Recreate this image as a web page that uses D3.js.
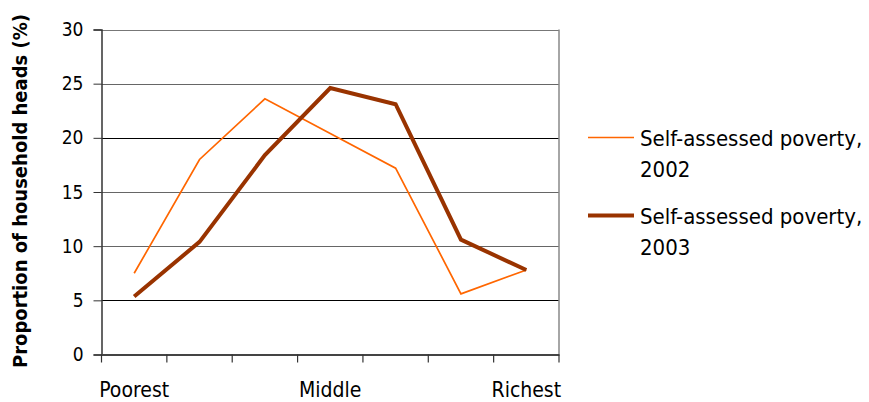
<!DOCTYPE html>
<html><head><meta charset="utf-8">
<script src="https://cdn.jsdelivr.net/npm/d3@7"></script>
<style>
body{margin:0;background:#fff;}
text{font-family:"DejaVu Sans Condensed","DejaVu Sans",sans-serif;font-stretch:condensed;fill:#000;}
</style></head>
<body><svg id="c" width="869" height="402"></svg>
<script>
const categories = ["Poorest","2","3","Middle","5","6","Richest"];
const shownLabels = ["Poorest","Middle","Richest"];
const values2002 = [7.5, 18.0, 23.6, 20.4, 17.2, 5.6, 7.8];
const values2003 = [5.35, 10.4, 18.4, 24.6, 23.1, 10.6, 7.8];
const yTicks = [0,5,10,15,20,25,30];
const seriesNames = ["Self-assessed poverty, 2002","Self-assessed poverty, 2003"];

const FONT = '"DejaVu Sans Condensed","DejaVu Sans",sans-serif';
const svg = d3.select("#c");
const L=101.5, R=559, T=29.5, B=354.5;
const x = d3.scaleBand().domain(categories).range([L,R]);
const y = d3.scaleLinear().domain([0,30]).range([B,T]);

const gridColor = {5:"#000",10:"#666",15:"#666",20:"#000",25:"#666",30:"#777"};
svg.append("g").selectAll("line").data(yTicks.filter(d=>d>0)).join("line")
  .attr("x1",L).attr("x2",R).attr("y1",d=>Math.round(y(d))+0.5).attr("y2",d=>Math.round(y(d))+0.5)
  .attr("stroke",d=>gridColor[d]).attr("stroke-width",1.2);
// right border
svg.append("line").attr("x1",R).attr("x2",R).attr("y1",T).attr("y2",B).attr("stroke","#888").attr("stroke-width",1.5);

// y axis
const ya = svg.append("g").attr("transform",`translate(${L},0)`)
  .call(d3.axisLeft(y).tickValues(yTicks).tickSize(8).tickPadding(10));
ya.attr("font-family",FONT).attr("font-size",19);
ya.select(".domain").attr("stroke","#333").attr("stroke-width",1.5);
ya.selectAll(".tick line").attr("stroke","#333");
ya.selectAll("text").attr("fill","#000");

// x axis
const xa = svg.append("g").attr("transform",`translate(0,${B})`)
  .call(d3.axisBottom(x).tickSize(0).tickFormat(""));
xa.select(".domain").attr("stroke","#444").attr("stroke-width",2);
const bounds = categories.map(c=>x(c)).concat([R]);
svg.append("g").selectAll("line").data(bounds).join("line")
  .attr("x1",d=>d).attr("x2",d=>d).attr("y1",B).attr("y2",B+8).attr("stroke","#333").attr("stroke-width",1.2);
svg.append("g").selectAll("text").data(shownLabels).join("text")
  .attr("x",d=>x(d)+x.bandwidth()/2).attr("y",397).attr("text-anchor","middle")
  .attr("font-size",21).text(d=>d);

// y label
svg.append("text").attr("transform","translate(27,191) rotate(-90)")
  .attr("text-anchor","middle").attr("font-size",20).attr("font-weight","bold").text("Proportion of household heads (%)");

const line = d3.line().x((d,i)=>x(categories[i])+x.bandwidth()/2).y(d=>y(d));
svg.append("path").datum(values2002).attr("d",line).attr("fill","none").attr("stroke","#FF6600").attr("stroke-width",1.7);
svg.append("path").datum(values2003).attr("d",line).attr("fill","none").attr("stroke","#993300").attr("stroke-width",4);

// legend
const leg = [{n:seriesNames[0],c:"#FF6600",w:1.7,y:137.5},{n:seriesNames[1],c:"#993300",w:4,y:215.5}];
leg.forEach(l=>{
  svg.append("line").attr("x1",588).attr("x2",634).attr("y1",l.y).attr("y2",l.y).attr("stroke",l.c).attr("stroke-width",l.w);
  const parts = l.n.split(", ");
  svg.append("text").attr("x",640).attr("y",l.y+8).attr("font-size",22).text(parts[0]+",");
  svg.append("text").attr("x",640).attr("y",l.y+39).attr("font-size",22).text(parts[1]);
});
</script></body></html>
